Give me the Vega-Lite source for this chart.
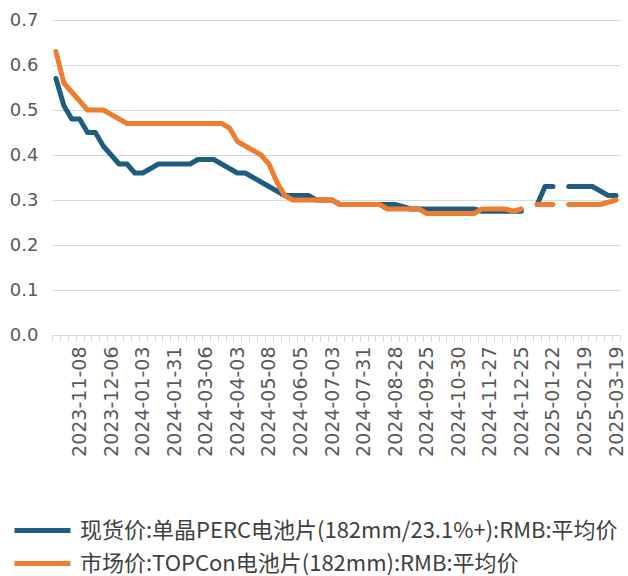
{
  "$schema": "https://vega.github.io/schema/vega-lite/v6.json",
  "width": 568,
  "height": 315,
  "autosize": "none",
  "padding": {"left": 52, "top": 20, "right": 8, "bottom": 241},
  "config": {"view": {"stroke": null}, "font": "DejaVu Sans"},
  "data": {"values": [
    {"d":"2023-10-18","s":"PERC","v":0.57},{"d":"2023-10-18","s":"TOPCon","v":0.63},
    {"d":"2023-10-25","s":"PERC","v":0.51},{"d":"2023-10-25","s":"TOPCon","v":0.56},
    {"d":"2023-11-01","s":"PERC","v":0.48},{"d":"2023-11-01","s":"TOPCon","v":0.54},
    {"d":"2023-11-08","s":"PERC","v":0.48},{"d":"2023-11-08","s":"TOPCon","v":0.52},
    {"d":"2023-11-15","s":"PERC","v":0.45},{"d":"2023-11-15","s":"TOPCon","v":0.50},
    {"d":"2023-11-22","s":"PERC","v":0.45},{"d":"2023-11-22","s":"TOPCon","v":0.50},
    {"d":"2023-11-29","s":"PERC","v":0.42},{"d":"2023-11-29","s":"TOPCon","v":0.50},
    {"d":"2023-12-06","s":"PERC","v":0.40},{"d":"2023-12-06","s":"TOPCon","v":0.49},
    {"d":"2023-12-13","s":"PERC","v":0.38},{"d":"2023-12-13","s":"TOPCon","v":0.48},
    {"d":"2023-12-20","s":"PERC","v":0.38},{"d":"2023-12-20","s":"TOPCon","v":0.47},
    {"d":"2023-12-27","s":"PERC","v":0.36},{"d":"2023-12-27","s":"TOPCon","v":0.47},
    {"d":"2024-01-03","s":"PERC","v":0.36},{"d":"2024-01-03","s":"TOPCon","v":0.47},
    {"d":"2024-01-10","s":"PERC","v":0.37},{"d":"2024-01-10","s":"TOPCon","v":0.47},
    {"d":"2024-01-17","s":"PERC","v":0.38},{"d":"2024-01-17","s":"TOPCon","v":0.47},
    {"d":"2024-01-24","s":"PERC","v":0.38},{"d":"2024-01-24","s":"TOPCon","v":0.47},
    {"d":"2024-01-31","s":"PERC","v":0.38},{"d":"2024-01-31","s":"TOPCon","v":0.47},
    {"d":"2024-02-07","s":"PERC","v":0.38},{"d":"2024-02-07","s":"TOPCon","v":0.47},
    {"d":"2024-02-21","s":"PERC","v":0.38},{"d":"2024-02-21","s":"TOPCon","v":0.47},
    {"d":"2024-02-28","s":"PERC","v":0.39},{"d":"2024-02-28","s":"TOPCon","v":0.47},
    {"d":"2024-03-06","s":"PERC","v":0.39},{"d":"2024-03-06","s":"TOPCon","v":0.47},
    {"d":"2024-03-13","s":"PERC","v":0.39},{"d":"2024-03-13","s":"TOPCon","v":0.47},
    {"d":"2024-03-20","s":"PERC","v":0.38},{"d":"2024-03-20","s":"TOPCon","v":0.47},
    {"d":"2024-03-27","s":"PERC","v":0.37},{"d":"2024-03-27","s":"TOPCon","v":0.46},
    {"d":"2024-04-03","s":"PERC","v":0.36},{"d":"2024-04-03","s":"TOPCon","v":0.43},
    {"d":"2024-04-10","s":"PERC","v":0.36},{"d":"2024-04-10","s":"TOPCon","v":0.42},
    {"d":"2024-04-17","s":"PERC","v":0.35},{"d":"2024-04-17","s":"TOPCon","v":0.41},
    {"d":"2024-04-24","s":"PERC","v":0.34},{"d":"2024-04-24","s":"TOPCon","v":0.40},
    {"d":"2024-05-08","s":"PERC","v":0.33},{"d":"2024-05-08","s":"TOPCon","v":0.38},
    {"d":"2024-05-15","s":"PERC","v":0.32},{"d":"2024-05-15","s":"TOPCon","v":0.34},
    {"d":"2024-05-22","s":"PERC","v":0.31},{"d":"2024-05-22","s":"TOPCon","v":0.31},
    {"d":"2024-05-29","s":"PERC","v":0.31},{"d":"2024-05-29","s":"TOPCon","v":0.30},
    {"d":"2024-06-05","s":"PERC","v":0.31},{"d":"2024-06-05","s":"TOPCon","v":0.30},
    {"d":"2024-06-12","s":"PERC","v":0.31},{"d":"2024-06-12","s":"TOPCon","v":0.30},
    {"d":"2024-06-19","s":"PERC","v":0.30},{"d":"2024-06-19","s":"TOPCon","v":0.30},
    {"d":"2024-06-26","s":"PERC","v":0.30},{"d":"2024-06-26","s":"TOPCon","v":0.30},
    {"d":"2024-07-03","s":"PERC","v":0.30},{"d":"2024-07-03","s":"TOPCon","v":0.30},
    {"d":"2024-07-10","s":"PERC","v":0.29},{"d":"2024-07-10","s":"TOPCon","v":0.29},
    {"d":"2024-07-17","s":"PERC","v":0.29},{"d":"2024-07-17","s":"TOPCon","v":0.29},
    {"d":"2024-07-24","s":"PERC","v":0.29},{"d":"2024-07-24","s":"TOPCon","v":0.29},
    {"d":"2024-07-31","s":"PERC","v":0.29},{"d":"2024-07-31","s":"TOPCon","v":0.29},
    {"d":"2024-08-07","s":"PERC","v":0.29},{"d":"2024-08-07","s":"TOPCon","v":0.29},
    {"d":"2024-08-14","s":"PERC","v":0.29},{"d":"2024-08-14","s":"TOPCon","v":0.29},
    {"d":"2024-08-21","s":"PERC","v":0.29},{"d":"2024-08-21","s":"TOPCon","v":0.28},
    {"d":"2024-08-28","s":"PERC","v":0.29},{"d":"2024-08-28","s":"TOPCon","v":0.28},
    {"d":"2024-09-04","s":"PERC","v":0.285},{"d":"2024-09-04","s":"TOPCon","v":0.28},
    {"d":"2024-09-11","s":"PERC","v":0.28},{"d":"2024-09-11","s":"TOPCon","v":0.28},
    {"d":"2024-09-18","s":"PERC","v":0.28},{"d":"2024-09-18","s":"TOPCon","v":0.28},
    {"d":"2024-09-25","s":"PERC","v":0.28},{"d":"2024-09-25","s":"TOPCon","v":0.27},
    {"d":"2024-10-09","s":"PERC","v":0.28},{"d":"2024-10-09","s":"TOPCon","v":0.27},
    {"d":"2024-10-16","s":"PERC","v":0.28},{"d":"2024-10-16","s":"TOPCon","v":0.27},
    {"d":"2024-10-23","s":"PERC","v":0.28},{"d":"2024-10-23","s":"TOPCon","v":0.27},
    {"d":"2024-10-30","s":"PERC","v":0.28},{"d":"2024-10-30","s":"TOPCon","v":0.27},
    {"d":"2024-11-06","s":"PERC","v":0.28},{"d":"2024-11-06","s":"TOPCon","v":0.27},
    {"d":"2024-11-13","s":"PERC","v":0.28},{"d":"2024-11-13","s":"TOPCon","v":0.27},
    {"d":"2024-11-20","s":"PERC","v":0.275},{"d":"2024-11-20","s":"TOPCon","v":0.28},
    {"d":"2024-11-27","s":"PERC","v":0.275},{"d":"2024-11-27","s":"TOPCon","v":0.28},
    {"d":"2024-12-04","s":"PERC","v":0.275},{"d":"2024-12-04","s":"TOPCon","v":0.28},
    {"d":"2024-12-11","s":"PERC","v":0.275},{"d":"2024-12-11","s":"TOPCon","v":0.28},
    {"d":"2024-12-18","s":"PERC","v":0.275},{"d":"2024-12-18","s":"TOPCon","v":0.275},
    {"d":"2024-12-25","s":"PERC","v":0.275},{"d":"2024-12-25","s":"TOPCon","v":0.28},
    {"d":"2025-01-01","s":"PERC","v":null},{"d":"2025-01-01","s":"TOPCon","v":null},
    {"d":"2025-01-08","s":"PERC","v":0.29},{"d":"2025-01-08","s":"TOPCon","v":0.29},
    {"d":"2025-01-15","s":"PERC","v":0.33},{"d":"2025-01-15","s":"TOPCon","v":0.29},
    {"d":"2025-01-22","s":"PERC","v":0.33},{"d":"2025-01-22","s":"TOPCon","v":0.29},
    {"d":"2025-01-29","s":"PERC","v":null},{"d":"2025-01-29","s":"TOPCon","v":null},
    {"d":"2025-02-05","s":"PERC","v":0.33},{"d":"2025-02-05","s":"TOPCon","v":0.29},
    {"d":"2025-02-12","s":"PERC","v":0.33},{"d":"2025-02-12","s":"TOPCon","v":0.29},
    {"d":"2025-02-19","s":"PERC","v":0.33},{"d":"2025-02-19","s":"TOPCon","v":0.29},
    {"d":"2025-02-26","s":"PERC","v":0.33},{"d":"2025-02-26","s":"TOPCon","v":0.29},
    {"d":"2025-03-05","s":"PERC","v":0.32},{"d":"2025-03-05","s":"TOPCon","v":0.29},
    {"d":"2025-03-12","s":"PERC","v":0.31},{"d":"2025-03-12","s":"TOPCon","v":0.295},
    {"d":"2025-03-19","s":"PERC","v":0.31},{"d":"2025-03-19","s":"TOPCon","v":0.30}
  ]},
  "mark": {"type": "line", "strokeWidth": 5, "strokeCap": "round", "strokeJoin": "round", "invalid": "break-paths-show-domains"},
  "encoding": {
    "x": {
      "field": "d", "type": "ordinal", "bandPosition": 0.5,
      "scale": {"type": "band", "paddingInner": 0, "paddingOuter": 0},
      "axis": {
        "title": null, "labelAngle": -90, "labelFont": "DejaVu Sans", "labelFontSize": 19,
        "labelColor": "#595959", "labelOverlap": false, "labelBound": false, "labelPadding": 5,
        "tickBand": "extent", "tickColor": "#d9d9d9", "tickSize": 6, "domainColor": "#d9d9d9",
        "labelExpr": "indexof(['2023-11-08','2023-12-06','2024-01-03','2024-01-31','2024-03-06','2024-04-03','2024-05-08','2024-06-05','2024-07-03','2024-07-31','2024-08-28','2024-09-25','2024-10-30','2024-11-27','2024-12-25','2025-01-22','2025-02-19','2025-03-19'], datum.value) >= 0 ? datum.value : ''"
      }
    },
    "y": {
      "field": "v", "type": "quantitative",
      "scale": {"domain": [0, 0.7], "nice": false},
      "axis": {
        "title": null, "values": [0, 0.1, 0.2, 0.3, 0.4, 0.5, 0.6, 0.7], "format": ".1f",
        "domain": false, "ticks": false, "labelPadding": 14, "gridColor": "#d9d9d9",
        "labelFont": "DejaVu Sans", "labelFontSize": 18, "labelColor": "#595959"
      }
    },
    "color": {
      "field": "s", "type": "nominal",
      "scale": {"domain": ["PERC", "TOPCon"], "range": ["#1e5d80", "#ed7d31"]},
      "legend": {
        "title": null, "orient": "none", "legendX": -12, "legendY": 494, "direction": "vertical",
        "symbolType": "M-3,0H1", "symbolStrokeWidth": 5, "symbolSize": 784,
        "labelFont": "Noto Sans CJK SC", "labelFontSize": 22, "labelColor": "#404040",
        "labelLimit": 700, "labelOffset": 7, "rowPadding": 5,
        "labelExpr": "datum.value == 'PERC' ? '现货价:单晶PERC电池片(182mm/23.1%+):RMB:平均价' : '市场价:TOPCon电池片(182mm):RMB:平均价'"
      }
    }
  }
}
